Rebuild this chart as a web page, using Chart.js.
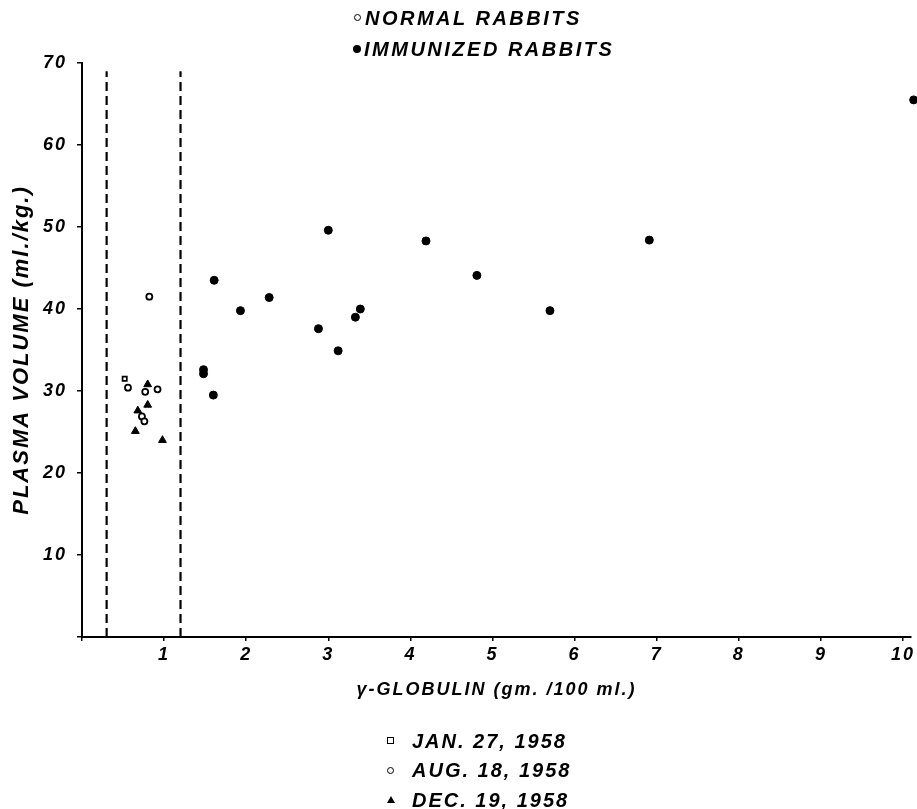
<!DOCTYPE html>
<html>
<head>
<meta charset="utf-8">
<script src="https://cdn.jsdelivr.net/npm/chart.js@4.4.1/dist/chart.umd.min.js"></script>
<style>
  html, body { margin: 0; padding: 0; background: #fff; }
  #wrap { position: relative; width: 917px; height: 809px; }
  #c { position: absolute; left: 0; top: 0; }
  .lg { position: absolute; font: italic bold 20px "Liberation Sans", Arial, sans-serif; letter-spacing: 2px; color: #000; white-space: nowrap; line-height: 20px; }
  .top { letter-spacing: 2.5px; }
  .mk { position: absolute; box-sizing: border-box; }
  .open { width: 7px; height: 7px; border: 1.6px solid #000; border-radius: 50%; }
  .dot { width: 8px; height: 8px; background: #000; border-radius: 50%; }
  .sq { width: 7px; height: 7px; border: 1.6px solid #000; }
  .tri { width: 0; height: 0; border-left: 4px solid transparent; border-right: 4px solid transparent; border-bottom: 7px solid #000; }
</style>
</head>
<body>
<div id="wrap">
  <canvas id="c" width="917" height="809"></canvas>

  <span class="mk open" style="left:354px;top:14px"></span>
  <div class="lg top" style="left:365px;top:8px">NORMAL RABBITS</div>
  <span class="mk dot" style="left:353px;top:45px"></span>
  <div class="lg top" style="left:364px;top:39px">IMMUNIZED RABBITS</div>

  <span class="mk sq" style="left:387px;top:737px"></span>
  <div class="lg" style="left:412px;top:731px">JAN. 27, 1958</div>
  <span class="mk open" style="left:387px;top:767px"></span>
  <div class="lg" style="left:412px;top:760px">AUG. 18, 1958</div>
  <span class="mk tri" style="left:387px;top:796px"></span>
  <div class="lg" style="left:412px;top:790px">DEC. 19, 1958</div>
</div>

<script>
'use strict';

// axis ticks
const xTicks = [0, 1, 2, 3, 4, 5, 6, 7, 8, 9, 10];
const yTicks = [0, 10, 20, 30, 40, 50, 60, 70];

// immunized rabbits (filled dots)
const immX = [1.61, 2.28, 1.93, 3.39, 3.33, 2.88, 3.12, 1.48, 1.48, 1.60, 3.00, 4.19, 4.81, 5.70, 6.91, 10.13];
const immY = [43.5, 41.4, 39.8, 40.0, 39.0, 37.6, 34.9, 32.6, 32.1, 29.5, 49.6, 48.3, 44.1, 39.8, 48.4, 65.5];

// normal rabbits, by date
const janX = [0.52];
const janY = [31.5];
const augX = [0.56, 0.77, 0.92, 0.82, 0.73, 0.76];
const augY = [30.4, 29.9, 30.2, 41.5, 26.9, 26.3];
const decX = [0.80, 0.80, 0.68, 0.65, 0.98];
const decY = [30.8, 28.3, 27.6, 25.1, 24.0];

// normal range limits (dashed verticals)
const rangeX = [0.3, 1.2];
const rangeY = [0, 69];

const pts = (xs, ys) => xs.map((x, i) => ({ x, y: ys[i] }));
const FONT = '"Liberation Sans", Arial, sans-serif';

const rangeSets = rangeX.map(x => ({
  type: 'line',
  data: rangeY.map(y => ({ x, y })),
  borderColor: '#000', borderWidth: 2.2, borderDash: [9, 5],
  pointRadius: 0, fill: false
}));

const spacing = {
  id: 'spacing',
  beforeDraw(chart) { chart.ctx.letterSpacing = '2px'; }
};

new Chart(document.getElementById('c').getContext('2d'), {
  type: 'scatter',
  data: {
    datasets: [
      ...rangeSets,
      { label: 'Immunized', data: pts(immX, immY), pointStyle: 'circle', pointRadius: 4, backgroundColor: '#000', borderColor: '#000', borderWidth: 1, clip: false },
      { label: 'Jan. 27, 1958', data: pts(janX, janY), pointStyle: 'rect', pointRadius: 3, backgroundColor: '#fff', borderColor: '#000', borderWidth: 1.7 },
      { label: 'Aug. 18, 1958', data: pts(augX, augY), pointStyle: 'circle', pointRadius: 3, backgroundColor: '#fff', borderColor: '#000', borderWidth: 1.8 },
      { label: 'Dec. 19, 1958', data: pts(decX, decY), pointStyle: 'triangle', pointRadius: 4.5, backgroundColor: '#000', borderColor: '#000', borderWidth: 1 }
    ]
  },
  options: {
    responsive: false,
    animation: false,
    layout: { padding: { left: 0, top: 63, right: 0, bottom: 108 } },
    plugins: { legend: { display: false }, tooltip: { enabled: false } },
    scales: {
      x: {
        type: 'linear', min: 0, max: 10.1,
        afterBuildTicks: s => { s.ticks = xTicks.map(v => ({ value: v })); },
        afterFit: s => { s.height = 64; },
        ticks: { callback: v => v === 0 ? '' : v, color: '#000', padding: 3, maxRotation: 0, font: { family: FONT, size: 18, style: 'italic', weight: 'bold' } },
        grid: { drawOnChartArea: false, color: '#000', tickLength: 4, lineWidth: 1.5 },
        border: { color: '#000', width: 2 },
        title: { display: true, text: 'γ-GLOBULIN (gm. /100 ml.)', color: '#000', padding: { top: 0, bottom: 0 }, font: { family: FONT, size: 18, style: 'italic', weight: 'bold' } }
      },
      y: {
        type: 'linear', min: 0, max: 70,
        afterBuildTicks: s => { s.ticks = yTicks.map(v => ({ value: v })); },
        afterFit: s => { s.width = 82; },
        ticks: { callback: v => v === 0 ? '' : v, color: '#000', padding: 10, font: { family: FONT, size: 18, style: 'italic', weight: 'bold' } },
        grid: { drawOnChartArea: false, color: '#000', tickLength: 5, lineWidth: 1.5 },
        border: { color: '#000', width: 2 },
        title: { display: true, text: 'PLASMA VOLUME (ml./kg.)', color: '#000', padding: { top: 9, bottom: 0 }, font: { family: FONT, size: 22, style: 'italic', weight: 'bold' } }
      }
    }
  },
  plugins: [spacing]
});
</script>
</body>
</html>
